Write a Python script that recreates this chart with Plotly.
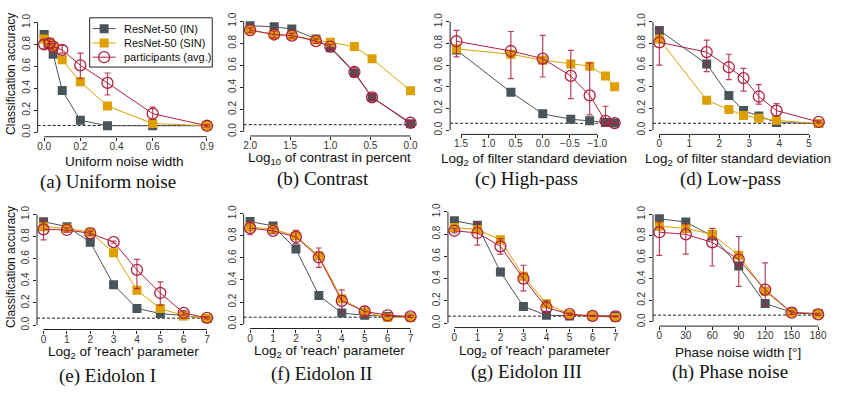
import plotly.graph_objects as go

W, H = 849, 397

# ---------------- data ----------------
# (a) Uniform noise
a_x = [0.0, 0.03, 0.05, 0.1, 0.2, 0.35, 0.6, 0.9]
a_in = [0.89, 0.80, 0.71, 0.38, 0.11, 0.06, 0.06, 0.06]
a_sin = [0.85, 0.82, 0.78, 0.66, 0.46, 0.24, 0.08, 0.06]
a_hum = [0.80, 0.81, 0.78, 0.75, 0.61, 0.45, 0.17, 0.06]
a_hum_hi = [0.84, 0.85, 0.81, 0.79, 0.72, 0.54, 0.23, 0.07]
a_hum_lo = [0.76, 0.77, 0.75, 0.72, 0.49, 0.34, 0.12, 0.05]

# (b) Contrast
b_x = [2.0, 1.7, 1.48, 1.18, 1.0, 0.7, 0.48, 0.0]
b_in = [0.96, 0.95, 0.93, 0.84, 0.76, 0.53, 0.31, 0.07]
b_sin = [0.92, 0.88, 0.87, 0.83, 0.81, 0.77, 0.66, 0.37]
b_hum = [0.92, 0.88, 0.87, 0.82, 0.77, 0.54, 0.31, 0.08]
b_hum_hi = [0.94, 0.91, 0.89, 0.84, 0.79, 0.58, 0.34, 0.10]
b_hum_lo = [0.90, 0.85, 0.85, 0.80, 0.75, 0.50, 0.28, 0.06]

# (c) High-pass
c_x = [1.585, 0.585, 0.0, -0.515, -0.862, -1.152, -1.32]
c_in = [0.74, 0.35, 0.15, 0.10, 0.085, 0.07, 0.065]
c_sin = [0.75, 0.70, 0.645, 0.61, 0.59, 0.50, 0.40]
c_hum = [0.82, 0.73, 0.66, 0.50, 0.32, 0.085, 0.065]
c_hum_hi = [0.92, 0.91, 0.875, 0.735, 0.62, 0.22, 0.07]
c_hum_lo = [0.675, 0.475, 0.49, 0.29, 0.14, 0.06, 0.06]

# (d) Low-pass
d_x = [0.0, 1.58, 2.32, 2.81, 3.32, 3.91, 5.32]
d_in = [0.92, 0.61, 0.32, 0.18, 0.13, 0.07, 0.06]
d_sin = [0.84, 0.275, 0.19, 0.135, 0.11, 0.09, 0.06]
d_hum = [0.81, 0.72, 0.58, 0.48, 0.31, 0.18, 0.075]
d_hum_hi = [0.93, 0.83, 0.70, 0.57, 0.42, 0.245, 0.085]
d_hum_lo = [0.60, 0.54, 0.465, 0.36, 0.24, 0.13, 0.065]

# (e) Eidolon I
e_x = [0, 1, 2, 3, 4, 5, 6, 7]
e_in = [0.935, 0.89, 0.75, 0.365, 0.15, 0.105, 0.085, 0.06]
e_sin = [0.89, 0.875, 0.84, 0.655, 0.315, 0.15, 0.085, 0.06]
e_hum = [0.865, 0.86, 0.83, 0.75, 0.50, 0.29, 0.11, 0.065]
e_hum_hi = [0.955, 0.88, 0.85, 0.76, 0.595, 0.39, 0.13, 0.075]
e_hum_lo = [0.77, 0.84, 0.81, 0.74, 0.33, 0.18, 0.09, 0.055]

# (f) Eidolon II
f_x = [0, 1, 2, 3, 4, 5, 6, 7]
f_in = [0.93, 0.89, 0.68, 0.26, 0.10, 0.08, 0.07, 0.065]
f_sin = [0.88, 0.86, 0.80, 0.62, 0.23, 0.11, 0.06, 0.06]
f_hum = [0.87, 0.845, 0.79, 0.605, 0.21, 0.115, 0.08, 0.07]
f_hum_hi = [0.93, 0.87, 0.85, 0.69, 0.31, 0.16, 0.09, 0.08]
f_hum_lo = [0.81, 0.82, 0.73, 0.515, 0.11, 0.08, 0.07, 0.06]

# (g) Eidolon III
g_x = [0, 1, 2, 3, 4, 5, 6, 7]
g_in = [0.92, 0.88, 0.46, 0.15, 0.07, 0.065, 0.065, 0.065]
g_sin = [0.86, 0.84, 0.75, 0.42, 0.175, 0.08, 0.065, 0.05]
g_hum = [0.83, 0.81, 0.69, 0.40, 0.14, 0.08, 0.065, 0.06]
g_hum_hi = [0.85, 0.90, 0.76, 0.52, 0.20, 0.09, 0.07, 0.065]
g_hum_lo = [0.81, 0.70, 0.62, 0.29, 0.10, 0.07, 0.06, 0.055]

# (h) Phase noise
h_x = [0, 30, 60, 90, 120, 150, 180]
h_in = [0.96, 0.93, 0.80, 0.52, 0.17, 0.09, 0.075]
h_sin = [0.89, 0.87, 0.815, 0.62, 0.285, 0.085, 0.075]
h_hum = [0.835, 0.815, 0.74, 0.58, 0.30, 0.085, 0.07]
h_hum_hi = [0.93, 0.91, 0.87, 0.795, 0.55, 0.10, 0.08]
h_hum_lo = [0.62, 0.63, 0.52, 0.33, 0.16, 0.07, 0.06]

x_titles = ["Uniform noise width", "Log<sub>10</sub> of contrast in percent",
            "Log<sub>2</sub> of filter standard deviation", "Log<sub>2</sub> of filter standard deviation",
            "Log<sub>2</sub> of 'reach' parameter", "Log<sub>2</sub> of 'reach' parameter",
            "Log<sub>2</sub> of 'reach' parameter", "Phase noise width [°]"]
subtitles = ["(a) Uniform noise", "(b) Contrast", "(c) High-pass", "(d) Low-pass",
             "(e) Eidolon I", "(f) Eidolon II", "(g) Eidolon III", "(h) Phase noise"]
x_tickvals = [[0, 0.2, 0.4, 0.6, 0.9], [2.0, 1.5, 1.0, 0.5, 0.0],
              [1.5, 1.0, 0.5, 0.0, -0.5, -1.0], [0, 1, 2, 3, 4, 5],
              [0, 1, 2, 3, 4, 5, 6, 7], [0, 1, 2, 3, 4, 5, 6, 7],
              [0, 1, 2, 3, 4, 5, 6, 7], [0, 30, 60, 90, 120, 150, 180]]
x_tickfmt = [".1f", ".1f", ".1f", "d", "d", "d", "d", "d"]
y_tickvals = [0, 0.2, 0.4, 0.6, 0.8, 1.0]
chance = 1 / 16
series_names = ["ResNet-50 (IN)", "ResNet-50 (SIN)", "participants (avg.)"]

panels = [
    (a_x, a_in, a_sin, a_hum, a_hum_hi, a_hum_lo),
    (b_x, b_in, b_sin, b_hum, b_hum_hi, b_hum_lo),
    (c_x, c_in, c_sin, c_hum, c_hum_hi, c_hum_lo),
    (d_x, d_in, d_sin, d_hum, d_hum_hi, d_hum_lo),
    (e_x, e_in, e_sin, e_hum, e_hum_hi, e_hum_lo),
    (f_x, f_in, f_sin, f_hum, f_hum_hi, f_hum_lo),
    (g_x, g_in, g_sin, g_hum, g_hum_hi, g_hum_lo),
    (h_x, h_in, h_sin, h_hum, h_hum_hi, h_hum_lo),
]

# ---------------- layout geometry (pixels) ----------------
# x: (value1, pixel1, value2, pixel2); y: (pixel of 0, pixel of 1)
geo_x = [(0, 43.3, 0.9, 206.7), (2, 250, 0, 411), (1.5, 461.7, -1.0, 598.3), (0, 660.7, 5, 811),
         (0, 42.7, 7, 206.7), (0, 250, 7, 411), (0, 455, 7, 616.7), (0, 660.7, 180, 820)]
geo_y = [(129.3, 17.7), (128.5, 16.5), (127, 17), (127, 17),
         (325, 212.7), (324, 212), (323, 210), (321.7, 212.7)]
xtitle_pos = [(124, 159), (330, 155.5), (535, 156.5), (740, 156.5),
              (123, 353), (330, 351.5), (535, 351.5), (740, 353)]
sub_pos = [(107, 180), (323, 177), (527, 177), (732, 177),
           (107, 377), (322, 375), (527, 373), (732, 373)]
ytitle_pos = [(10, 70), (10, 266)]
# legend box (pixels): left, top, right, bottom; sample line span; text x; row centres
LEG_BOX = (89, 13, 212, 63)
LEG_LINE = (92, 115)
LEG_TEXT_X = 121
LEG_ROWS = [24, 38.5, 53]

C_IN = "#4A545B"
C_SIN = "#DDA000"
C_HUM = "#B0203F"
FONT = "Liberation Sans"
SERIF = "Liberation Serif"

styles = [
    dict(line=dict(color=C_IN, width=1), marker=dict(symbol="square", size=9, color=C_IN)),
    dict(line=dict(color=C_SIN, width=1), marker=dict(symbol="square", size=9, color=C_SIN)),
    dict(line=dict(color=C_HUM, width=1),
         marker=dict(symbol="circle-open", size=11, color=C_HUM, line=dict(width=1.3, color=C_HUM))),
]

fig = go.Figure()
shapes = []
annotations = []
layout_axes = {}

for i, (px_, pin, psin, phum, phi, plo) in enumerate(panels):
    n = i + 1
    xs = "" if n == 1 else str(n)
    xa, ya = "x" + xs, "y" + xs
    v1, p1, v2, p2 = geo_x[i]
    sx = (p2 - p1) / (v2 - v1)
    lo, hi = min(px_), max(px_)
    ext = 0.04 * (hi - lo)
    if sx > 0:
        xr = [lo - ext, hi + ext]
    else:
        xr = [hi + ext, lo - ext]
    pl = p1 + (xr[0] - v1) * sx
    pr = p1 + (xr[1] - v1) * sx
    y0p, y1p = geo_y[i]
    sy = y1p - y0p
    yr = [-0.04, 1.04]
    pb = y0p + yr[0] * sy
    pt = y0p + yr[1] * sy

    layout_axes["xaxis" + xs] = dict(
        domain=[pl / W, pr / W], range=xr, anchor=ya, tickvals=x_tickvals[i],
        tickformat=x_tickfmt[i], ticks="outside", ticklen=3, tickwidth=1, tickcolor="#222",
        ticklabelstandoff=-3,
        showgrid=False, zeroline=False, showline=False,
        tickfont=dict(family=FONT, size=10, color="#333"))
    layout_axes["yaxis" + xs] = dict(
        domain=[1 - pb / H, 1 - pt / H], range=yr, anchor=xa, tickvals=y_tickvals,
        tickformat=".1f", ticks="outside", ticklen=3, tickwidth=1, tickcolor="#222",
        showgrid=False, zeroline=False, showline=False, tickangle=-90,
        tickfont=dict(family=FONT, size=10, color="#333"))

    # R-style axis lines spanning first to last tick
    tv = x_tickvals[i]
    shapes.append(dict(type="line", xref=xa, yref=ya + " domain", x0=tv[0], x1=tv[-1], y0=0, y1=0,
                       line=dict(color="#222", width=1)))
    shapes.append(dict(type="line", xref=xa + " domain", yref=ya, x0=0, x1=0, y0=0, y1=1,
                       line=dict(color="#222", width=1)))
    # chance level
    shapes.append(dict(type="line", xref=xa + " domain", yref=ya, x0=0, x1=1, y0=chance, y1=chance,
                       line=dict(color="#222", width=1, dash="3px,2px"), layer="below"))

    fig.add_trace(go.Scatter(x=px_, y=pin, xaxis=xa, yaxis=ya, mode="lines+markers",
                             name=series_names[0], showlegend=False, **styles[0]))
    fig.add_trace(go.Scatter(x=px_, y=psin, xaxis=xa, yaxis=ya, mode="lines+markers",
                             name=series_names[1], showlegend=False, **styles[1]))
    fig.add_trace(go.Scatter(x=px_, y=phum, xaxis=xa, yaxis=ya, mode="lines+markers",
                             name=series_names[2], showlegend=False,
                             error_y=dict(type="data", symmetric=False,
                                          array=[h - m for h, m in zip(phi, phum)],
                                          arrayminus=[m - l for m, l in zip(phum, plo)],
                                          color="rgba(176,32,63,0.85)", thickness=1.2, width=3),
                             **styles[2]))

    tx, ty = xtitle_pos[i]
    annotations.append(dict(text=x_titles[i], x=tx / W, y=1 - ty / H, xref="paper", yref="paper",
                            xanchor="center", yanchor="middle", showarrow=False,
                            font=dict(family=FONT, size=13.5, color="#111")))
    sxp, syp = sub_pos[i]
    annotations.append(dict(text=subtitles[i], x=sxp / W, y=1 - syp / H, xref="paper", yref="paper",
                            xanchor="center", yanchor="middle", showarrow=False,
                            font=dict(family=SERIF, size=19, color="#111")))

for (tx, ty) in ytitle_pos:
    annotations.append(dict(text="Classification accuracy", x=tx / W, y=1 - ty / H,
                            xref="paper", yref="paper", xanchor="center", yanchor="middle",
                            textangle=-90, showarrow=False,
                            font=dict(family=FONT, size=12, color="#111")))

# ---------------- legend (R-style compact box on an overlay axis in pixel units) ----------------
L, T, R, B = LEG_BOX
layout_axes["xaxis9"] = dict(domain=[L / W, R / W], range=[L, R], anchor="y9", visible=False,
                             fixedrange=True)
layout_axes["yaxis9"] = dict(domain=[1 - B / H, 1 - T / H], range=[B, T], anchor="x9", visible=False,
                             fixedrange=True)
shapes.append(dict(type="rect", xref="x9 domain", yref="y9 domain", x0=0, x1=1, y0=0, y1=1,
                   line=dict(color="#222", width=1), fillcolor="white", layer="below"))
for k, name in enumerate(series_names):
    ry = LEG_ROWS[k]
    fig.add_trace(go.Scatter(x=[LEG_LINE[0], LEG_LINE[1]], y=[ry, ry], xaxis="x9", yaxis="y9",
                             mode="lines", showlegend=False, hoverinfo="skip", line=styles[k]["line"]))
    fig.add_trace(go.Scatter(x=[(LEG_LINE[0] + LEG_LINE[1]) / 2], y=[ry], xaxis="x9", yaxis="y9",
                             mode="markers", showlegend=False, hoverinfo="skip",
                             marker=styles[k]["marker"]))
    annotations.append(dict(text=name, x=LEG_TEXT_X, y=ry, xref="x9", yref="y9",
                            xanchor="left", yanchor="middle", showarrow=False,
                            font=dict(family=FONT, size=11, color="#111")))

fig.update_layout(
    width=W, height=H, margin=dict(l=0, r=0, t=0, b=0),
    paper_bgcolor="white", plot_bgcolor="rgba(0,0,0,0)",
    shapes=shapes, annotations=annotations, showlegend=False,
    **layout_axes,
)

fig.write_html("out.html", config={"displayModeBar": False},
               post_script="document.body.style.margin='0px';")
